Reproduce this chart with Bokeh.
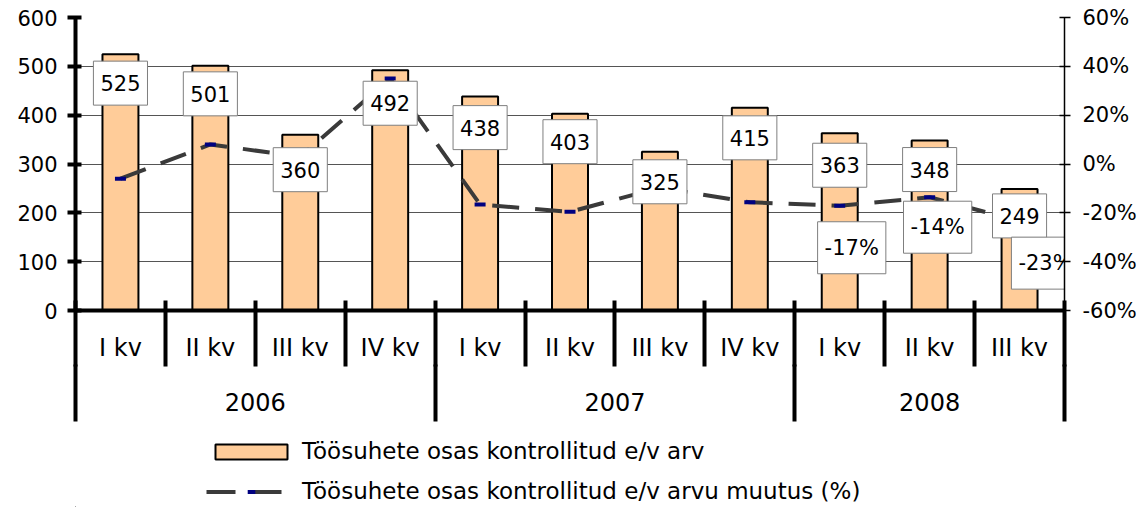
from bokeh.plotting import figure
from bokeh.layouts import column
from bokeh.models import (Range1d, LinearAxis, FixedTicker, Grid, ColumnDataSource,
                          Legend, LegendItem, PrintfTickFormatter)
from bokeh.core.properties import value
from bokeh.embed import file_html
from bokeh.resources import INLINE

# ---------------- data ----------------
years = ["2006", "2007", "2008"]
quarter_year = ["2006", "2006", "2006", "2006",
                "2007", "2007", "2007", "2007",
                "2008", "2008", "2008"]
quarters = ["I kv", "II kv", "III kv", "IV kv",
            "I kv", "II kv", "III kv", "IV kv",
            "I kv", "II kv", "III kv"]
counts = [525, 501, 360, 492, 438, 403, 325, 415, 363, 348, 249]
change_pct = [-6, 8, 3, 35, -16.6, -19.6, -9.7, -15.7, -17.1, -13.6, -23.4]
labelled_change = [8, 9, 10]          # quarters whose change is labelled
left_ticks = [0, 100, 200, 300, 400, 500, 600]
right_ticks = [-60, -40, -20, 0, 20, 40, 60]
series_names = ["Töösuhete osas kontrollitud e/v arv",
                "Töösuhete osas kontrollitud e/v arvu muutus (%)"]

# ---------------- styles ----------------
FONT = "DejaVu Sans"
BAR_FILL = "#FFCC99"
LINE_COLOR = "#3a3a3a"
MARKER_COLOR = "#000080"
GRID_COLOR = "#555555"
BAR_LABEL_DY = [29, 28, 35, 33, 31, 28, 30, 30, 32, 29, 27]   # px below bar top
CHG_LABEL_DX = [12, 8, 26]
CHG_LABEL_DY = [42, 30, 42]
BOX_PAD = dict(x=7, y=14)
FRAME_LEFT = 75

n = len(counts)
xs = [i + 0.5 for i in range(n)]
bounds_all = list(range(n + 1))
year_bounds = [0]
year_centers = []
for yr in years:
    cnt = quarter_year.count(yr)
    start = year_bounds[-1]
    year_centers.append(start + cnt / 2)
    year_bounds.append(start + cnt)

p = figure(width=1145, height=430,
           x_range=Range1d(0, n), y_range=Range1d(0, 600),
           x_axis_type=None, y_axis_type=None,
           toolbar_location=None, output_backend="svg",
           min_border_left=FRAME_LEFT, min_border_right=81,
           min_border_top=17, min_border_bottom=120,
           outline_line_color=None)
p.extra_y_ranges = {"pct": Range1d(-60, 60)}

# grid
p.add_layout(Grid(dimension=1, ticker=FixedTicker(ticks=left_ticks),
                  grid_line_color=GRID_COLOR, grid_line_width=1))

# left axis
ax_left = LinearAxis(ticker=FixedTicker(ticks=left_ticks, minor_ticks=[]),
                     axis_line_width=4, axis_line_color="black",
                     major_tick_line_width=4, major_tick_line_color="black",
                     major_tick_in=6, major_tick_out=8,
                     minor_tick_line_color=None,
                     major_label_standoff=10,
                     major_label_text_font=FONT,
                     major_label_text_font_size="21px",
                     major_label_text_color="black")
p.add_layout(ax_left, "left")

# right axis
ax_right = LinearAxis(y_range_name="pct",
                      ticker=FixedTicker(ticks=right_ticks, minor_ticks=[]),
                      formatter=PrintfTickFormatter(format="%d%%"),
                      axis_line_width=1.5, axis_line_color="black",
                      major_tick_line_width=1.5, major_tick_line_color="black",
                      major_tick_in=5, major_tick_out=6,
                      minor_tick_line_color=None,
                      major_label_standoff=12,
                      major_label_text_font=FONT,
                      major_label_text_font_size="21px",
                      major_label_text_color="black")
p.add_layout(ax_right, "right")

# bottom axes: quarters, then years
ax_q = LinearAxis(ticker=FixedTicker(ticks=xs, minor_ticks=bounds_all),
                  major_label_overrides={x: q for x, q in zip(xs, quarters)},
                  axis_line_width=4, axis_line_color="black",
                  major_tick_line_color=None, major_tick_in=0, major_tick_out=0,
                  minor_tick_line_color="black", minor_tick_line_width=4,
                  minor_tick_in=10, minor_tick_out=56,
                  major_label_standoff=-33,
                  major_label_text_font=FONT,
                  major_label_text_font_size="24px",
                  major_label_text_color="black")
p.add_layout(ax_q, "below")

ax_y = LinearAxis(ticker=FixedTicker(ticks=year_centers, minor_ticks=year_bounds),
                  major_label_overrides={c: y for c, y in zip(year_centers, years)},
                  axis_line_color=None,
                  major_tick_line_color=None, major_tick_in=0, major_tick_out=0,
                  minor_tick_line_color="black", minor_tick_line_width=4,
                  minor_tick_in=0, minor_tick_out=57,
                  major_label_standoff=-29,
                  major_label_text_font=FONT,
                  major_label_text_font_size="24px",
                  major_label_text_color="black")
p.add_layout(ax_y, "below")

# bars
src = ColumnDataSource(dict(x=xs, counts=counts, pct=change_pct,
                            label=[str(c) for c in counts], dy=BAR_LABEL_DY))
p.vbar(x="x", top="counts", width=0.4, bottom=0, source=src,
       fill_color=BAR_FILL, line_color="black", line_width=2)

# change line
p.line(x="x", y="pct", source=src, y_range_name="pct",
       line_color=LINE_COLOR, line_width=4, line_dash="27 16")
p.scatter(x="x", y="pct", source=src, y_range_name="pct",
          marker="dash", size=11, line_color=MARKER_COLOR, line_width=4)

# bar value labels
p.text(x="x", y="counts", text="label", source=src, y_offset="dy",
       text_align="center", text_baseline="middle",
       text_font=value(FONT), text_font_size="21px", text_color="black",
       background_fill_color="white", border_line_color="#7f7f7f",
       border_line_width=1, padding=BOX_PAD)

# change labels
chg_src = ColumnDataSource(dict(
    x=[xs[i] for i in labelled_change],
    y=[change_pct[i] for i in labelled_change],
    label=["%d%%" % round(change_pct[i]) for i in labelled_change],
    dx=CHG_LABEL_DX, dy=CHG_LABEL_DY))
p.text(x="x", y="y", text="label", source=chg_src, y_range_name="pct",
       x_offset="dx", y_offset="dy",
       text_align="center", text_baseline="middle",
       text_font=value(FONT), text_font_size="21px", text_color="black",
       background_fill_color="white", border_line_color="#7f7f7f",
       border_line_width=1, padding=BOX_PAD)

# ---------------- legend strip ----------------
lg = figure(width=1145, height=77, x_range=Range1d(0, 1), y_range=Range1d(0, 1),
            x_axis_type=None, y_axis_type=None,
            toolbar_location=None, output_backend="svg",
            min_border_left=0, min_border_right=0,
            min_border_top=0, min_border_bottom=0,
            outline_line_color=None)
# swatch-only renderers, placed outside the visible range
proxy = ColumnDataSource(dict(x=[-5, -4], y=[-5, -5], top=[-5, -5]))
lb = lg.vbar(x="x", top="top", width=0.4, source=proxy,
             fill_color=BAR_FILL, line_color="black", line_width=2)
ll = lg.line(x="x", y="y", source=proxy,
             line_color=LINE_COLOR, line_width=4, line_dash="29 17")
lm = lg.scatter(x="x", y="y", source=proxy,
                marker="dash", size=11, line_color=MARKER_COLOR, line_width=4)
legend = Legend(items=[LegendItem(label=series_names[0], renderers=[lb]),
                       LegendItem(label=series_names[1], renderers=[ll, lm])],
                location=(206 - FRAME_LEFT, 3), orientation="vertical",
                glyph_width=90, glyph_height=19, label_standoff=6,
                spacing=14, padding=0, margin=0,
                border_line_color=None, background_fill_alpha=0,
                label_text_font=FONT, label_text_font_size="23px",
                label_text_color="black")
lg.add_layout(legend)

open("out.html", "w").write(file_html(column(p, lg, spacing=0), INLINE))
